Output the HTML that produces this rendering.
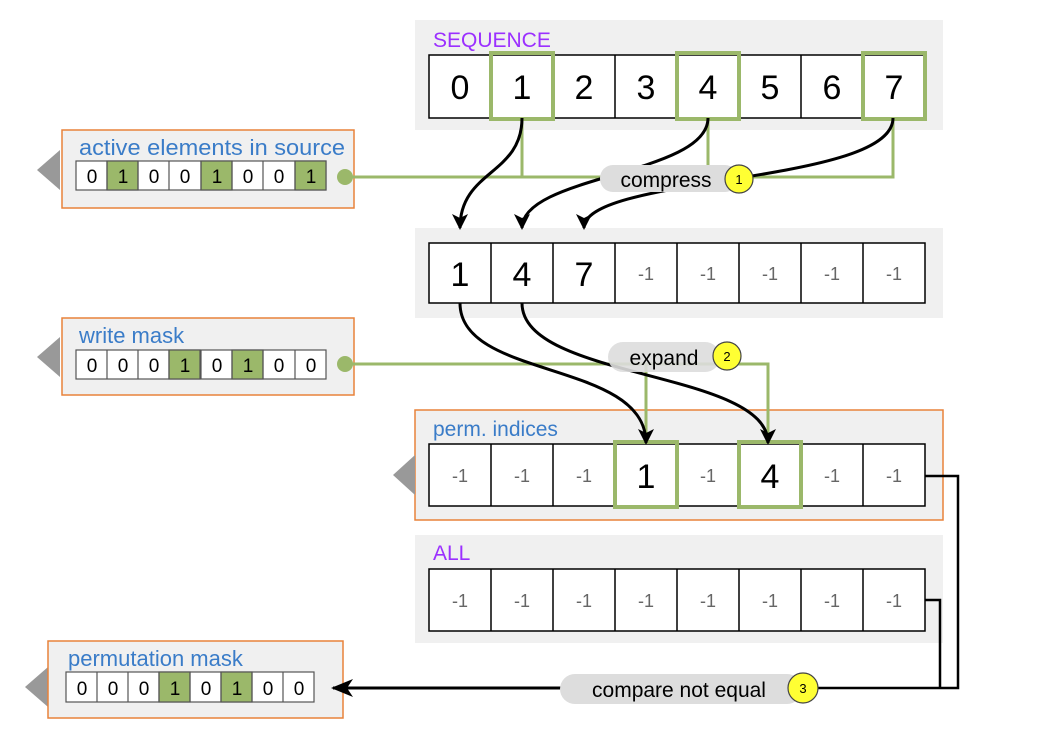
<!DOCTYPE html>
<html><head><style>body{margin:0;background:#fff}svg{display:block}text{font-family:"Liberation Sans",sans-serif}</style></head><body>
<svg width="1050" height="740" viewBox="0 0 1050 740" xmlns="http://www.w3.org/2000/svg">
<defs><marker id="ah" markerWidth="16" markerHeight="16" refX="14" refY="8" orient="auto" markerUnits="userSpaceOnUse"><path d="M0,0 L16,8 L0,16 L4,8z" fill="#000"/></marker>
<marker id="ah2" markerWidth="22" markerHeight="18" refX="20" refY="9" orient="auto" markerUnits="userSpaceOnUse"><path d="M0,0 L22,9 L0,18 L6,9z" fill="#000"/></marker></defs>
<rect x="415" y="20" width="528" height="110" fill="#f0f0f0"/>
<text x="433" y="47" font-size="21" fill="#9b30ff">SEQUENCE</text>
<rect x="415" y="228" width="528" height="90" fill="#f0f0f0"/>
<rect x="415" y="410" width="528" height="110" fill="#f0f0f0" stroke="#e8823a" stroke-width="1.5"/>
<text x="433" y="436" font-size="21" fill="#3a7cc8">perm. indices</text>
<path d="M393,475 L415,455 L415,495z" fill="#999"/>
<rect x="415" y="535" width="528" height="108" fill="#f0f0f0"/>
<text x="433" y="560" font-size="21" fill="#9b30ff">ALL</text>
<g stroke="#000" stroke-width="1.5" fill="#fff">
<rect x="429" y="55" width="496" height="63"/>
<rect x="429" y="243" width="496" height="60"/>
<rect x="429" y="444" width="496" height="62"/>
<rect x="429" y="569" width="496" height="62"/>
</g>
<g stroke="#000" stroke-width="1.5">
<path d="M491,55V118M553,55V118M615,55V118M677,55V118M739,55V118M801,55V118M863,55V118"/>
<path d="M491,243V303M553,243V303M615,243V303M677,243V303M739,243V303M801,243V303M863,243V303"/>
<path d="M491,444V506M553,444V506M615,444V506M677,444V506M739,444V506M801,444V506M863,444V506"/>
<path d="M491,569V631M553,569V631M615,569V631M677,569V631M739,569V631M801,569V631M863,569V631"/>
</g>
<g fill="none" stroke="#9bb86a" stroke-width="4">
<rect x="491" y="53" width="62" height="66"/><rect x="677" y="53" width="62" height="66"/><rect x="863" y="53" width="62" height="66"/>
<rect x="615" y="442" width="62" height="65"/><rect x="739" y="442" width="62" height="65"/>
</g>
<g font-size="34" text-anchor="middle" fill="#000">
<text x="460" y="99">0</text><text x="522" y="99">1</text><text x="584" y="99">2</text><text x="646" y="99">3</text><text x="708" y="99">4</text><text x="770" y="99">5</text><text x="832" y="99">6</text><text x="894" y="99">7</text>
<text x="460" y="286">1</text><text x="522" y="286">4</text><text x="584" y="286">7</text>
<text x="646" y="488">1</text><text x="770" y="488">4</text>
</g>
<g font-size="18" text-anchor="middle" fill="#666">
<text x="646" y="280">-1</text><text x="708" y="280">-1</text><text x="770" y="280">-1</text><text x="832" y="280">-1</text><text x="894" y="280">-1</text>
<text x="460" y="482">-1</text><text x="522" y="482">-1</text><text x="584" y="482">-1</text><text x="708" y="482">-1</text><text x="832" y="482">-1</text><text x="894" y="482">-1</text>
<text x="460" y="607">-1</text><text x="522" y="607">-1</text><text x="584" y="607">-1</text><text x="646" y="607">-1</text><text x="708" y="607">-1</text><text x="770" y="607">-1</text><text x="832" y="607">-1</text><text x="894" y="607">-1</text>
</g>
<g>
<path d="M37,170 L60,150 L60,190z" fill="#999"/>
<rect x="62" y="130" width="292" height="78" fill="#f0f0f0" stroke="#e8823a" stroke-width="1.5"/>
<text x="79" y="155" font-size="22" fill="#3a7cc8" textLength="266" lengthAdjust="spacingAndGlyphs">active elements in source</text>
<path d="M37,357 L60,337 L60,377z" fill="#999"/>
<rect x="62" y="318" width="292" height="77" fill="#f0f0f0" stroke="#e8823a" stroke-width="1.5"/>
<text x="79" y="343" font-size="22" fill="#3a7cc8">write mask</text>
<path d="M25,687 L48,667 L48,707z" fill="#999"/>
<rect x="48" y="641" width="295" height="77" fill="#f0f0f0" stroke="#e8823a" stroke-width="1.5"/>
<text x="68" y="666" font-size="22" fill="#3a7cc8">permutation mask</text>
</g>
<g stroke="#555" stroke-width="1.2">
<g fill="#fff"><rect x="76" y="161" width="250" height="29"/><rect x="76" y="350" width="250" height="29"/><rect x="66" y="672" width="248" height="30"/></g>
<g fill="#9bb86a"><rect x="107" y="161" width="31" height="29"/><rect x="201" y="161" width="31" height="29"/><rect x="295" y="161" width="31" height="29"/>
<rect x="169" y="350" width="31" height="29"/><rect x="232" y="350" width="31" height="29"/>
<rect x="159" y="672" width="31" height="30"/><rect x="221" y="672" width="31" height="30"/></g>
<path d="M107,161v29M138,161v29M169,161v29M201,161v29M232,161v29M263,161v29M295,161v29"/>
<path d="M107,350v29M138,350v29M169,350v29M201,350v29M232,350v29M263,350v29M295,350v29"/>
<path d="M97,672v30M128,672v30M159,672v30M190,672v30M221,672v30M252,672v30M283,672v30"/>
</g>
<g font-size="19" text-anchor="middle">
<text x="92" y="183">0</text><text x="123" y="183">1</text><text x="154" y="183">0</text><text x="185" y="183">0</text><text x="217" y="183">1</text><text x="248" y="183">0</text><text x="279" y="183">0</text><text x="311" y="183">1</text>
<text x="92" y="372">0</text><text x="123" y="372">0</text><text x="154" y="372">0</text><text x="185" y="372">1</text><text x="217" y="372">0</text><text x="248" y="372">1</text><text x="279" y="372">0</text><text x="311" y="372">0</text>
<text x="82" y="695">0</text><text x="113" y="695">0</text><text x="144" y="695">0</text><text x="175" y="695">1</text><text x="206" y="695">0</text><text x="237" y="695">1</text><text x="268" y="695">0</text><text x="299" y="695">0</text>
</g>
<g stroke="#9bb86a" stroke-width="3" fill="none">
<path d="M345,177H893V118M522,118V177M708,118V177"/>
<path d="M345,364H768V444M646,364V444"/>
</g>
<circle cx="345" cy="177" r="8" fill="#9bb86a"/>
<circle cx="345" cy="364" r="8" fill="#9bb86a"/>
<g stroke="#000" stroke-width="3" fill="none" marker-end="url(#ah)">
<path d="M522,118 C522,175 460,170 460,228"/>
<path d="M708,118 C708,175 522,175 522,228"/>
<path d="M893,118 C893,185 584,175 584,228"/>
<path d="M460,303 C460,380 646,360 646,443"/>
<path d="M522,303 C522,380 768,370 768,443"/>
</g>
<path d="M925,476H958V688H800M925,600H940V688" stroke="#000" stroke-width="2.5" fill="none"/>
<path d="M800,688H333" stroke="#000" stroke-width="3" fill="none" marker-end="url(#ah2)"/>
<rect x="600" y="165" width="138" height="27" rx="13" fill="#ddd"/>
<text x="666" y="187" font-size="21" text-anchor="middle">compress</text>
<circle cx="739" cy="179" r="14" fill="#ffff33" stroke="#444" stroke-width="1.2"/><text x="739" y="184" font-size="13" text-anchor="middle">1</text>
<rect x="608" y="342" width="112" height="30" rx="15" fill="#ddd" opacity="0.9"/>
<text x="664" y="365" font-size="21" text-anchor="middle">expand</text>
<circle cx="727" cy="356" r="14" fill="#ffff33" stroke="#444" stroke-width="1.2"/><text x="727" y="361" font-size="13" text-anchor="middle">2</text>
<rect x="560" y="674" width="242" height="30" rx="15" fill="#ddd"/>
<text x="679" y="697" font-size="21" text-anchor="middle">compare not equal</text>
<circle cx="803" cy="688" r="15" fill="#ffff33" stroke="#444" stroke-width="1.2"/><text x="803" y="693" font-size="13" text-anchor="middle">3</text>
</svg>
</body></html>
